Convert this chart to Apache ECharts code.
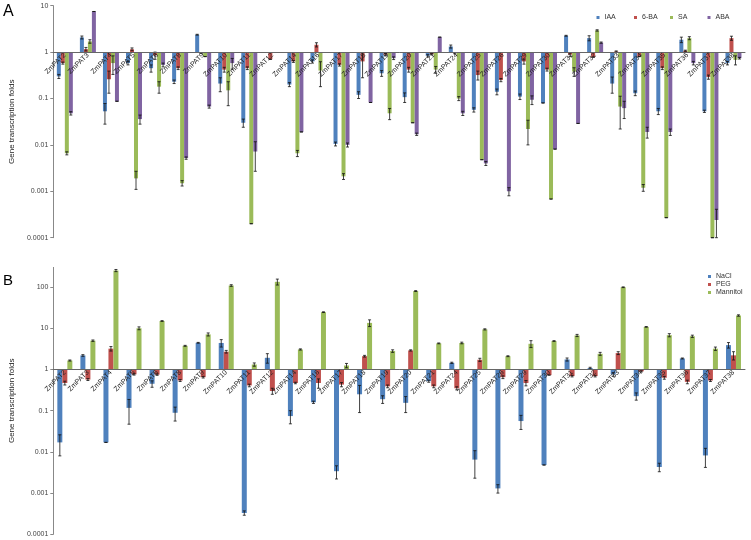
<!DOCTYPE html>
<html>
<head>
<meta charset="utf-8">
<script src="https://cdn.jsdelivr.net/npm/echarts@6/dist/echarts.min.js"></script>
<style>
html, body { margin: 0; padding: 0; background: #fff; }
#main { width: 751px; height: 540px; }
</style>
</head>
<body>
<div id="main"></div>
<script>
var genes = ['ZmPAT2', 'ZmPAT3', 'ZmPAT4', 'ZmPAT5', 'ZmPAT6', 'ZmPAT8', 'ZmPAT9', 'ZmPAT10', 'ZmPAT11', 'ZmPAT12',
	'ZmPAT14', 'ZmPAT16', 'ZmPAT17', 'ZmPAT18', 'ZmPAT19', 'ZmPAT20', 'ZmPAT21', 'ZmPAT24', 'ZmPAT25', 'ZmPAT26',
	'ZmPAT29', 'ZmPAT30', 'ZmPAT31', 'ZmPAT32', 'ZmPAT33', 'ZmPAT34', 'ZmPAT35', 'ZmPAT36', 'ZmPAT37', 'ZmPAT38'];

// panel A: hormones
var iaa = [0.30, 2.07, 0.053, 0.58, 0.45, 0.23, 2.37, 0.21, 0.03, null, 0.2, 0.63, 0.0105, 0.12, 0.35, 0.107, 0.83, 1.32, 0.057, 0.14, 0.11, 0.08, 2.25, 2.0, 0.21, 0.13, 0.053, 1.85, 0.053, 0.58];
var iaaErr = [0.03, 0.15, 0.025, 0.05, 0.08, 0.02, 0.05, 0.07, 0.006, 0, 0.02, 0.05, 0.001, 0.02, 0.05, 0.025, 0.05, 0.1, 0.006, 0.02, 0.015, 0, 0.05, 0.25, 0.08, 0.015, 0.008, 0.25, 0.003, 0.05];
var ba = [0.58, 1.16, 0.26, 1.15, 0.85, 0.45, 0.95, 0.42, 0.45, 0.7, 0.63, 1.44, 0.53, 0.63, 0.88, 0.42, 0.9, 0.95, 0.32, 0.25, 0.63, 0.42, 0.88, 0.78, 1.03, 0.8, 0.45, 1.07, 0.29, 2.0];
var baErr = [0.03, 0.1, 0.13, 0.08, 0.15, 0.03, 0, 0.05, 0.03, 0, 0.03, 0.15, 0.03, 0.35, 0.05, 0.05, 0.03, 0.03, 0.07, 0.02, 0.08, 0.03, 0.08, 0, 0.03, 0, 0.03, 0.03, 0.03, 0.2];
var sa = [0.0066, 1.7, 0.58, 0.0019, 0.18, 0.0015, 0.8, 0.15, 0.0002, null, 0.0066, 0.4, 0.0021, null, 0.048, 0.03, 0.42, 0.1, 0.0048, null, 0.022, 0.00068, 0.38, 2.93, 0.067, 0.0012, 0.00027, 2.0, 0.0001, 0.68];
var saErr = [0.0005, 0.15, 0.25, 0.0008, 0.05, 0.0002, 0, 0.08, 0, 0, 0.001, 0.22, 0.0003, 0, 0.013, 0, 0.07, 0.01, 0, 0, 0.012, 0, 0.08, 0.1, 0.045, 0.0002, 0, 0.15, 0, 0.15];
var aba = [0.048, 7.5, 0.087, 0.036, 0.53, 0.0052, 0.067, 0.58, 0.0072, null, 0.019, null, 0.01, 0.082, 0.74, 0.017, 2.1, 0.048, 0.004, 0.001, 0.094, 0.0081, 0.029, 1.6, 0.062, 0.019, 0.019, 0.58, 0.00024, 0.74];
var abaErr = [0.004, 0, 0, 0.008, 0.05, 0.0003, 0.005, 0.15, 0.0045, 0, 0, 0, 0.001, 0, 0.05, 0.001, 0, 0.005, 0.0004, 0.0002, 0.02, 0, 0, 0.05, 0.025, 0.005, 0.003, 0.05, 0.00017, 0.03];

// panel B: abiotic stress
var nacl = [0.017, 2.19, 0.017, 0.117, 0.45, 0.089, 4.44, 4.4, 0.00033, 1.92, 0.074, 0.16, 0.0034, 0.25, 0.19, 0.155, 0.52, 1.45, 0.0065, 0.0013, 0.056, 0.0048, 1.75, 1.08, 0.76, 0.225, 0.0043, 1.85, 0.0082, 3.9];
var naclErr = [0.009, 0.1, 0, 0.07, 0.08, 0.033, 0.1, 0.9, 0.00004, 0.5, 0.026, 0.01, 0.0012, 0.16, 0.04, 0.065, 0.03, 0.05, 0.0042, 0.0003, 0.021, 0, 0.15, 0.05, 0.08, 0.045, 0.001, 0.05, 0.004, 0.6];
var peg = [0.47, 0.57, 3.2, 0.76, 0.75, 0.54, 0.65, 2.7, 0.41, 0.30, 0.47, 0.47, 0.43, 2.1, 0.39, 2.9, 0.39, 0.35, 1.72, 0.65, 0.47, 0.73, 0.69, 0.69, 2.5, 0.9, 0.63, 0.5, 0.54, 2.2];
var pegErr = [0.05, 0.03, 0.4, 0.03, 0.03, 0.03, 0.03, 0.2, 0.03, 0.05, 0.02, 0.12, 0.05, 0.1, 0.03, 0.1, 0.03, 0.03, 0.15, 0.05, 0.07, 0, 0.03, 0.03, 0.2, 0.03, 0.05, 0.05, 0.03, 0.5];
var mannitol = [1.65, 5.0, 252, 10, 15, 3.75, 7.1, 109, 1.32, 134, 3.06, 24.6, 1.25, 13.5, 2.8, 80, 4.3, 4.4, 9.4, 2.1, 4.2, 4.9, 6.7, 2.4, 99, 10.8, 6.8, 6.4, 3.2, 20.4];
var mannitolErr = [0.05, 0.2, 15, 0.8, 0.3, 0.1, 0.6, 5, 0.12, 22, 0.1, 0.5, 0.15, 2.5, 0.2, 2, 0.1, 0.2, 0.3, 0.05, 0.8, 0.1, 0.4, 0.2, 2, 0.2, 0.6, 0.4, 0.3, 0.8];

var blue = '#4F81BD', red = '#C0504D', green = '#9BBB59', purple = '#8064A2';
var font = 'Liberation Sans, Arial, sans-serif';

var minA = 0.0001, maxA = 10, minB = 0.0001, maxB = 300;
var topA = 5.7, hA = 232, topB = 267.4, hB = 266.9;
// category axis sits on the value 1 line
var offA = -hA * Math.log10(1 / minA) / Math.log10(maxA / minA);
var offB = -hB * Math.log10(1 / minB) / Math.log10(maxB / minB);

function barSeries(name, data, color, idx, w) {
	return {
		name: name, type: 'bar', xAxisIndex: idx, yAxisIndex: idx,
		data: data, barWidth: w, barGap: '0%',
		itemStyle: {color: color}
	};
}

function errSeries(idx, lists, errs, barW, minV) {
	var data = [];
	lists.forEach(function (vals, s) {
		vals.forEach(function (v, i) {
			if (v != null) data.push([i, v, errs[s][i], s]);
		});
	});
	var n = lists.length;
	return {
		type: 'custom', xAxisIndex: idx, yAxisIndex: idx, silent: true, z: 5,
		encode: {x: 0, y: 1},
		data: data,
		renderItem: function (params, api) {
			var i = api.value(0), v = api.value(1), e = api.value(2), s = api.value(3);
			var dx = (s - (n - 1) / 2) * barW;
			var hi = api.coord([i, v + e]);
			var lo = api.coord([i, Math.max(v - e, minV)]);
			var x = hi[0] + dx;
			var st = {stroke: '#111', lineWidth: 0.8};
			return {
				type: 'group',
				children: [
					{type: 'line', shape: {x1: x, y1: hi[1], x2: x, y2: lo[1]}, style: st},
					{type: 'line', shape: {x1: x - 1.5, y1: hi[1], x2: x + 1.5, y2: hi[1]}, style: st},
					{type: 'line', shape: {x1: x - 1.5, y1: lo[1], x2: x + 1.5, y2: lo[1]}, style: st}
				]
			};
		}
	};
}

function fmt(v) {
	return String(parseFloat(Number(v).toPrecision(4)));
}

function yAxisOpt(idx, min, max) {
	return {
		type: 'log', gridIndex: idx, min: min, max: max, logBase: 10,
		name: 'Gene transcription folds', nameLocation: 'middle', nameGap: 36,
		nameTextStyle: {fontSize: 8, color: '#222', fontFamily: font},
		axisLine: {show: true, lineStyle: {color: '#888', width: 1}},
		axisTick: {show: true, length: 3, lineStyle: {color: '#888'}},
		axisLabel: {fontSize: 7, color: '#444', margin: 5, fontFamily: font, formatter: fmt, showMaxLabel: idx === 0},
		splitLine: {show: false}
	};
}

function xAxisOpt(idx, off) {
	return {
		type: 'category', gridIndex: idx, data: genes, position: 'bottom', offset: off, z: 10,
		axisLine: {show: true, lineStyle: {color: '#666', width: 1}},
		axisTick: {show: false},
		axisLabel: {rotate: 45, interval: 0, fontSize: 7, color: '#222', margin: 2, fontFamily: font}
	};
}

var myChart = echarts.init(document.getElementById('main'));
var option = {
	backgroundColor: '#fff',
	animation: false,
	textStyle: {fontFamily: font},
	title: [
		{text: 'A', left: 3, top: 4, padding: 0, textStyle: {fontSize: 16, fontWeight: 'normal', color: '#000', fontFamily: font}},
		{text: 'B', left: 3, top: 273, padding: 0, textStyle: {fontSize: 15, fontWeight: 'normal', color: '#000', fontFamily: font}}
	],
	legend: [
		{data: ['IAA'], left: 596.5, top: 14, padding: 0, icon: 'rect', itemWidth: 3, itemHeight: 3, textStyle: {fontSize: 7, color: '#333'}},
		{data: ['6-BA'], left: 634, top: 14, padding: 0, icon: 'rect', itemWidth: 3, itemHeight: 3, textStyle: {fontSize: 7, color: '#333'}},
		{data: ['SA'], left: 670, top: 14, padding: 0, icon: 'rect', itemWidth: 3, itemHeight: 3, textStyle: {fontSize: 7, color: '#333'}},
		{data: ['ABA'], left: 707.5, top: 14, padding: 0, icon: 'rect', itemWidth: 3, itemHeight: 3, textStyle: {fontSize: 7, color: '#333'}},
		{data: ['NaCl', 'PEG', 'Mannitol'], orient: 'vertical', left: 708, top: 272.5, padding: 0, itemGap: 0,
			icon: 'rect', itemWidth: 3, itemHeight: 3, textStyle: {fontSize: 7, lineHeight: 8, color: '#333'}}
	],
	grid: [
		{left: 53, right: 6, top: topA, height: hA},
		{left: 53, right: 6, top: topB, height: hB}
	],
	xAxis: [xAxisOpt(0, offA), xAxisOpt(1, offB)],
	yAxis: [yAxisOpt(0, minA, maxA), yAxisOpt(1, minB, maxB)],
	series: [
		barSeries('IAA', iaa, blue, 0, 4),
		barSeries('6-BA', ba, red, 0, 4),
		barSeries('SA', sa, green, 0, 4),
		barSeries('ABA', aba, purple, 0, 4),
		errSeries(0, [iaa, ba, sa, aba], [iaaErr, baErr, saErr, abaErr], 4, minA),
		barSeries('NaCl', nacl, blue, 1, 5),
		barSeries('PEG', peg, red, 1, 5),
		barSeries('Mannitol', mannitol, green, 1, 5),
		errSeries(1, [nacl, peg, mannitol], [naclErr, pegErr, mannitolErr], 5, minB)
	]
};
myChart.setOption(option);
</script>
</body>
</html>
